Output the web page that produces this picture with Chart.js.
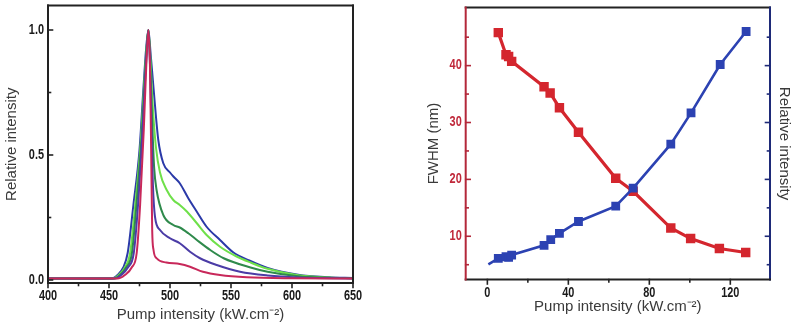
<!DOCTYPE html>
<html>
<head>
<meta charset="utf-8">
<script src="https://cdn.jsdelivr.net/npm/chart.js@4.4.1/dist/chart.umd.min.js"></script>
<style>
  body { margin: 0; background: #fff; }
  #wrap { position: relative; width: 794px; height: 328px; }
  #spectra { position: absolute; left: 0; top: 0; }
  #fwhm { position: absolute; left: 400px; top: 0; }
</style>
</head>
<body>
<div id="wrap">
  <canvas id="spectra" width="400" height="328"></canvas>
  <canvas id="fwhm" width="394" height="328"></canvas>
</div>
<script>
// ========== DATA ==========

// left panel: normalised emission spectra (x = wavelength, y = relative intensity)
const redWl = [400, 457, 463, 468.6, 472.7, 475.5, 478.5, 480.5, 482.3, 483.6, 484.6, 485.4, 486.5, 489, 497, 508, 516.4, 527, 541, 563, 600, 650];
const redInt = [0.006, 0.006, 0.02, 0.05, 0.108, 0.3, 0.6, 0.85, 1.0, 0.85, 0.5, 0.2, 0.12, 0.087, 0.07, 0.064, 0.053, 0.033, 0.02, 0.011, 0.007, 0.006];

const purpleWl = [400, 455, 460, 465.5, 470.3, 473.8, 477.5, 479.8, 481.4, 482.3, 483.5, 484.8, 486, 487.7, 491.8, 500, 508, 516.4, 524.6, 538.3, 557.4, 580, 605, 650];
const purpleInt = [0.006, 0.006, 0.02, 0.05, 0.108, 0.3, 0.6, 0.82, 0.95, 1.0, 0.88, 0.6, 0.38, 0.253, 0.2, 0.167, 0.147, 0.113, 0.087, 0.06, 0.033, 0.018, 0.01, 0.006];

const dkGreenWl = [400, 454, 459, 464, 468.8, 472.5, 476.8, 479.3, 481.2, 482.3, 483.7, 485.5, 487, 489, 494.5, 502.7, 508, 515, 522, 533, 544, 566, 580, 605, 630, 650];
const dkGreenInt = [0.006, 0.006, 0.02, 0.05, 0.108, 0.3, 0.58, 0.8, 0.95, 1.0, 0.88, 0.62, 0.45, 0.36, 0.26, 0.22, 0.21, 0.187, 0.16, 0.12, 0.087, 0.05, 0.033, 0.015, 0.009, 0.007];

const ltGreenWl = [400, 453, 458, 463, 467.3, 471.5, 476, 478.8, 481, 482.3, 483.8, 485.8, 488.5, 491.8, 497.3, 502.7, 508, 514, 522, 530, 541, 555, 566, 580, 605, 630, 650];
const ltGreenInt = [0.006, 0.006, 0.02, 0.05, 0.108, 0.3, 0.55, 0.78, 0.94, 1.0, 0.9, 0.7, 0.53, 0.43, 0.36, 0.32, 0.3, 0.273, 0.227, 0.18, 0.133, 0.093, 0.07, 0.045, 0.019, 0.01, 0.007];

const blueWl = [400, 452, 457, 461.7, 465.3, 470, 475, 478, 480.5, 482.3, 484.2, 486.8, 490.4, 494.5, 500, 503, 508, 515, 522, 530, 541, 552, 565, 580, 605, 630, 650];
const blueInt = [0.006, 0.006, 0.02, 0.05, 0.108, 0.3, 0.52, 0.75, 0.93, 1.0, 0.9, 0.75, 0.56, 0.467, 0.43, 0.413, 0.387, 0.327, 0.273, 0.213, 0.16, 0.11, 0.078, 0.048, 0.021, 0.011, 0.008];

const specXTicks = [400, 450, 500, 550, 600, 650];
const specXMinor = [425, 475, 525, 575, 625];
const specYTicks = [0, 0.5, 1.0];
const specYMinor = [0.25, 0.75];

// right panel: FWHM and relative intensity vs pump intensity
const pumpRed = [5.4, 9.2, 10.5, 12, 28, 31, 35.6, 45, 63.4, 72, 90.6, 100.4, 114.6, 127.6];
const fwhmNm = [45.8, 41.9, 41.6, 40.75, 36.3, 35.2, 32.6, 28.3, 20.2, 17.9, 11.45, 9.6, 7.85, 7.15];
const pumpBlue = [0.5, 5.4, 9.2, 10.5, 12, 28, 31.3, 35.6, 45, 63.4, 72, 90.6, 100.6, 115, 127.8];
const relIntensity = [5.05, 6.1, 6.4, 6.3, 6.7, 8.4, 9.4, 10.5, 12.6, 15.3, 18.45, 26.2, 31.7, 40.2, 46.0];

const pumpXTicks = [0, 40, 80, 120];
const pumpXMinor = [20, 60, 100];
const fwhmYTicks = [10, 20, 30, 40];
const fwhmYMinor = [5, 15, 25, 35, 45];

// ========== SHARED ==========

const LABEL_FONT = 'bold 14px "Liberation Sans", Arial, sans-serif';
const LABEL_SQUEEZE = 0.78; // tick numbers in the original are narrow
const TITLE_FONT = { family: '"Liberation Sans", Arial, sans-serif', size: 15 };
const PUMP_TITLE = "Pump intensity (kW.cm\u207B\u00B2)";

const toPoints = (xs, ys) => xs.map((x, i) => ({ x, y: ys[i] }));
const hiddenTicks = (vals) => (s) => { s.ticks = vals.map((value) => ({ value })); };

// frame lines, inward/outward major & minor ticks, squeezed tick labels
const frameTicks = {
  id: "frameTicks",
  afterDraw(chart, args, opts) {
    const ctx = chart.ctx;
    const a = chart.chartArea;
    ctx.save();
    ctx.lineCap = "square";
    const f = opts.frame;
    const side = (color, x1, y1, x2, y2) => {
      ctx.strokeStyle = color;
      ctx.lineWidth = 2;
      ctx.beginPath();
      ctx.moveTo(x1, y1);
      ctx.lineTo(x2, y2);
      ctx.stroke();
    };
    side(f.top, a.left, a.top, a.right, a.top);
    side(f.right, a.right, a.top, a.right, a.bottom);
    side(f.bottom, a.left, a.bottom, a.right, a.bottom);
    side(f.left, a.left, a.top, a.left, a.bottom);

    opts.axes.forEach((ax) => {
      const sc = chart.scales[ax.id];
      ctx.strokeStyle = ax.color;
      ctx.lineWidth = 1.6;
      const mark = (v, len) => {
        const p = sc.getPixelForValue(v);
        ctx.beginPath();
        if (ax.edge === "bottom") {
          const d = ax.inward ? -1 : 1;
          ctx.moveTo(p, a.bottom);
          ctx.lineTo(p, a.bottom + d * len);
        } else {
          const x0 = ax.edge === "left" ? a.left : a.right;
          const d = (ax.edge === "left") === ax.inward ? 1 : -1;
          ctx.moveTo(x0, p);
          ctx.lineTo(x0 + d * len, p);
        }
        ctx.stroke();
      };
      ax.major.forEach((v) => mark(v, 4.5));
      ax.minor.forEach((v) => mark(v, 2.5));

      if (!ax.fmt) return;
      ctx.fillStyle = ax.labelColor;
      ctx.font = LABEL_FONT;
      ctx.textBaseline = "middle";
      ax.major.forEach((v) => {
        const p = sc.getPixelForValue(v);
        ctx.save();
        if (ax.edge === "bottom") {
          ctx.textAlign = "center";
          ctx.translate(p, a.bottom + ax.gap);
        } else {
          ctx.textAlign = "right";
          ctx.translate(a.left - ax.gap, p);
        }
        ctx.scale(LABEL_SQUEEZE, 1);
        ctx.fillText(ax.fmt(v), 0, 0);
        ctx.restore();
      });
    });
    ctx.restore();
  },
};

// ========== LEFT: SPECTRA ==========

function renderSpectra() {
  const line = (label, xs, ys, color) => ({
    label,
    data: toPoints(xs, ys),
    borderColor: color,
    borderWidth: 2,
    pointRadius: 0,
    cubicInterpolationMode: "monotone",
  });

  new Chart(document.getElementById("spectra"), {
    type: "line",
    data: {
      // dataset 0 is painted last (on top)
      datasets: [
        line("red", redWl, redInt, "#c8285a"),
        line("purple", purpleWl, purpleInt, "#4b3ca6"),
        line("dark green", dkGreenWl, dkGreenInt, "#2f8a4c"),
        line("light green", ltGreenWl, ltGreenInt, "#6fe04a"),
        line("blue", blueWl, blueInt, "#2b3aa8"),
      ],
    },
    options: {
      responsive: false,
      animation: false,
      layout: { padding: { left: 0, top: 5.5, right: 47, bottom: 0 } },
      plugins: {
        legend: { display: false },
        tooltip: { enabled: false },
        frameTicks: {
          frame: { top: "#222", right: "#222", bottom: "#222", left: "#222" },
          axes: [
            { id: "x", edge: "bottom", inward: false, color: "#222", major: specXTicks, minor: specXMinor,
              fmt: (v) => String(v), labelColor: "#1a1a1a", gap: 13.5 },
            { id: "y", edge: "left", inward: true, color: "#222", major: specYTicks, minor: specYMinor,
              fmt: (v) => v.toFixed(1), labelColor: "#1a1a1a", gap: 4 },
          ],
        },
      },
      scales: {
        x: {
          type: "linear",
          min: 400,
          max: 650,
          afterBuildTicks: hiddenTicks(specXTicks),
          afterFit: (s) => { s.height = 45; },
          grid: { display: false, drawTicks: false },
          border: { display: false },
          ticks: { display: false },
          title: { display: true, text: PUMP_TITLE, font: TITLE_FONT, color: "#3a3a3a", padding: { top: 0, bottom: 4 } },
        },
        y: {
          min: -0.012,
          max: 1.098,
          afterBuildTicks: hiddenTicks(specYTicks),
          afterFit: (s) => { s.width = 48; },
          grid: { display: false, drawTicks: false },
          border: { display: false },
          ticks: { display: false },
          title: { display: true, text: "Relative intensity", font: TITLE_FONT, color: "#3a3a3a", padding: { top: 3, bottom: 0 } },
        },
      },
    },
    plugins: [frameTicks],
  });
}

// ========== RIGHT: FWHM ==========

function renderFwhm() {
  const RED = "#d4262e";
  const BLUE = "#2c42b2";

  new Chart(document.getElementById("fwhm"), {
    type: "line",
    data: {
      datasets: [
        {
          label: "Relative intensity",
          data: toPoints(pumpBlue, relIntensity),
          yAxisID: "y2",
          borderColor: BLUE,
          backgroundColor: BLUE,
          borderWidth: 2.6,
          pointStyle: "rect",
          pointRadius: pumpBlue.map((_, i) => (i === 0 ? 0 : 4.4)),
        },
        {
          label: "FWHM",
          data: toPoints(pumpRed, fwhmNm),
          yAxisID: "y",
          borderColor: RED,
          backgroundColor: RED,
          borderWidth: 3.2,
          pointStyle: "rect",
          pointRadius: 4.4,
        },
      ],
    },
    options: {
      responsive: false,
      animation: false,
      layout: { padding: { left: 0, top: 6, right: 0, bottom: 0 } },
      plugins: {
        legend: { display: false },
        tooltip: { enabled: false },
        frameTicks: {
          frame: { top: "#222", right: "#1e2a78", bottom: "#222", left: "#b3283a" },
          axes: [
            { id: "x", edge: "bottom", inward: false, color: "#222", major: pumpXTicks, minor: pumpXMinor,
              fmt: (v) => String(v), labelColor: "#1a1a1a", gap: 13.8 },
            { id: "y", edge: "left", inward: true, color: "#b3283a", major: fwhmYTicks, minor: fwhmYMinor,
              fmt: (v) => String(v), labelColor: "#c0283a", gap: 4 },
            { id: "y2", edge: "right", inward: true, color: "#1e2a78", major: fwhmYTicks, minor: fwhmYMinor },
          ],
        },
      },
      scales: {
        x: {
          type: "linear",
          min: -10.7,
          max: 139.6,
          afterBuildTicks: hiddenTicks(pumpXTicks),
          afterFit: (s) => { s.height = 48.5; },
          grid: { display: false, drawTicks: false },
          border: { display: false },
          ticks: { display: false },
          title: { display: true, text: PUMP_TITLE, font: TITLE_FONT, color: "#3a3a3a", padding: { top: 0, bottom: 12 } },
        },
        y: {
          position: "left",
          min: 2.4,
          max: 50.2,
          afterBuildTicks: hiddenTicks(fwhmYTicks),
          afterFit: (s) => { s.width = 65.7; },
          grid: { display: false, drawTicks: false },
          border: { display: false },
          ticks: { display: false },
          title: { display: true, text: "FWHM (nm)", font: TITLE_FONT, color: "#3a3a3a", padding: { top: 25, bottom: 0 } },
        },
        y2: {
          position: "right",
          min: 2.4,
          max: 50.2,
          afterFit: (s) => { s.width = 24; },
          grid: { display: false, drawTicks: false },
          border: { display: false },
          ticks: { display: false },
          title: { display: true, text: "Relative intensity", font: TITLE_FONT, color: "#3a3a3a", padding: { top: 1, bottom: 0 } },
        },
      },
    },
    plugins: [frameTicks],
  });
}

renderSpectra();
renderFwhm();
</script>
</body>
</html>
